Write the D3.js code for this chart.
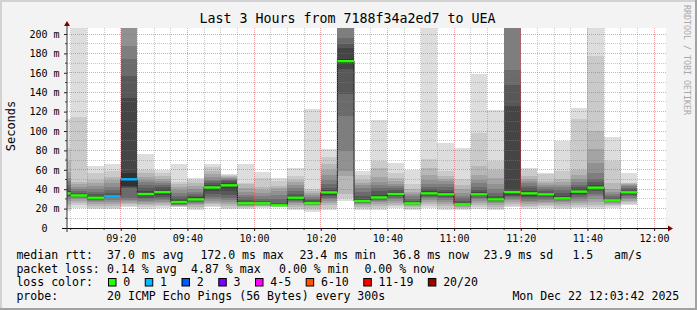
<!DOCTYPE html>
<html><head><meta charset="utf-8">
<script src="https://cdn.jsdelivr.net/npm/d3@7"></script>
<style>
body{margin:0;background:#f3f3f3}
svg{display:block}
text{font-family:"DejaVu Sans Mono",monospace;fill:#000}
.pre{white-space:pre}
</style>
</head><body><svg id="c" width="697" height="310"></svg>
<script>
// ---------------- DATA ----------------
const titleText = "Last 3 Hours from 7188f34a2ed7 to UEA";
const binStarts = ["09:00","09:05","09:10","09:15","09:20","09:25","09:30","09:35","09:40","09:45",
  "09:50","09:55","10:00","10:05","10:10","10:15","10:20","10:25","10:30","10:35",
  "10:40","10:45","10:50","10:55","11:00","11:05","11:10","11:15","11:20","11:25",
  "11:30","11:35","11:40","11:45","11:50"];
const medians = [35.7,33.6,31.2,32.6,50.2,35,37,26.8,29.5,41.8,
  44,25.5,25.5,23.4,31.2,25.6,36.7,172,27.8,31.5,
  35,25.4,35.7,34.7,24.4,34.7,29.5,37,35.7,34.7,
  30.6,37.5,41.6,28.5,36.8];
const lossCounts = [0,0,0,1,1,0,0,0,0,0, 0,0,0,0,0,0,0,0,0,0, 0,0,0,0,0,0,0,0,0,0, 0,0,0,0,0];
const pings = [
 [17.5,20,22.5,25,27.5,29.5,31.5,33,34.5,35.3,36,38,41,44,48,52,58,69,82.8,112],
 [21,24,26,28,29.5,31,32,33,33.3,33.5,34,35,36.5,38,40,42,45,47,114,215],
 [19.5,21,23,25,27,28,29,30,30.5,31,31.5,33,35,37,40,43,46,50,57,64],
 [19.5,21,23,25,27,29,30.5,31.5,32,32.4,32.8,34,36,39,42,46,50,53,59,66.3],
 [21.5,23,24.5,26,27.5,29,31,41,42,43.5,56.5,134,157,174,188,210,230,260,300,350],
 [20,22,23.5,25,26.5,28,29.5,31,32.5,34,35.5,38,41,44,47,50,53,57,60,76],
 [21,22.5,24,25.5,27,28.5,30,32,34,36,38,40,42,44,46,48,51,54,57,59.4],
 [21.5,22,22.5,23,23.5,24,24.5,25,25.5,26.3,27.3,29,31,33,36,39,42,45,47,65.6],
 [18.5,20.5,22,23.5,25,26,27,28,28.5,29,30,31.5,33,35,37.5,40,43,46,49,51.5],
 [21.5,23,24.5,26,28,30,32,35,38,41,42.5,44,46,48,50,53,56,59,63,66.3],
 [19.5,21,23,25,27,29,31,34,38,43,45,46.5,48,49.5,51,52,53,54,54.5,55.3],
 [19.5,20.5,21.5,22.5,23,23.5,24,24.5,25,25.3,25.7,27,29,31.5,34,37.5,41,45,46,65.6],
 [21,21.8,22.5,23,23.5,24,24.5,25,25.2,25.4,25.6,26.5,28,30,33,36,39,42,52,58],
 [21.7,22,22.3,22.6,22.9,23,23.1,23.2,23.3,23.3,23.4,24,26,30,34,38,41,43,48,51.5],
 [18.2,20,22,24,25.5,27,28,29,30,30.8,31.6,33,35,38,41,44,47,50,54,62.2],
 [17,19,21,22.5,23.5,24,24.5,25,25.2,25.4,25.8,27,28.5,30,32,34,36,38,40.5,122.3],
 [18.2,21,23.5,25.5,27.5,29.5,31,33,34.5,36,37.4,39,41.5,45,49,55,60,66,73,81],
 [27.8,31,34.7,53.6,58.7,79.4,115.4,137.8,163.5,170,174,186,190,196,215,230,250,280,320,380],
 [19,20.5,22,23.5,24.5,25.5,26,26.5,27,27.5,28,30,33,37,41,44,46.5,50,55,58.4],
 [18.9,21,23,25,26.5,27.5,28.5,29.5,30.5,31,32,34.5,38,41,44,47,53,62,69,111.6],
 [20.5,22.5,24,26,28,29.5,31,32.5,33.5,34.5,35.5,37,39,41,43,45,48,52,57,67.5],
 [18.5,20,21.5,22.5,23.5,24,24.5,25,25.2,25.3,25.6,26.5,28,30,32.5,35,37.5,40,45,59.4],
 [21,23,25,27,29,30.5,32,33.5,34.5,35.3,36,38,40,42,45,50,55,62,71.4,240],
 [18.2,20.5,23,25,27,29,30.5,32,33,34.3,35.1,37,39.5,42,45,48,51,54,59,87.3],
 [18.2,19.5,21,22,22.8,23.3,23.7,24,24.2,24.3,24.5,26,28,30.5,33,36,40,44,51,82.8],
 [19.9,22,24,26,28,29.5,31,32.5,33.5,34.3,35.1,37,39.5,42,46,50,55,64,98.3,158.4],
 [18.2,20,22,24,25.5,26.5,27.5,28.3,28.9,29.3,29.7,31,33,36,40,45,52,60,69,121.3],
 [21.6,23,25,27,28.5,30,31.5,33,34.5,36,37.5,126,147.7,163,215,235,260,290,330,400],
 [19.9,21.5,23,25,26.5,28,29.5,31.5,33.5,35,36.5,38,41,43.5,46,48.5,51,54,60,62.2],
 [21,22.5,24,25.5,27,28.5,30,31.5,33,34.3,35.1,36.5,38,40,42,44,46,48,56,57],
 [19.3,21,23,25,26.5,28,29,29.7,30.2,30.5,30.8,33,36,39,42,44.5,47,51,59,89.7],
 [20.5,22,24,26,28,30,32,34,35.5,37,38,40,42,44.5,47,51,55,59.4,112,123.3],
 [19.5,21.5,24,27,30,33,35.5,38,40,41.2,42,44,47,50.2,57,67.3,81,100,177.3,260],
 [21,22.5,24,25,26,26.8,27.4,27.8,28.1,28.4,28.7,29.5,31,33,35,37.5,40,46.7,69,94.2],
 [23.7,25,26.5,28,29.5,31,32.5,34,35.5,36.6,37,38.5,40,41.5,43,44,45,46,46.7,57]
];
const xTickLabels = ["09:20","09:40","10:00","10:20","10:40","11:00","11:20","11:40","12:00"];
const yTickValues = [0,20,40,60,80,100,120,140,160,180,200];
const timeWindow = ["09:03:42","12:03:42"];
const yLabel = "Seconds";
const rttLabel = "median rtt:";
const rttStats = ["37.0 ms avg","172.0 ms max","23.4 ms min","36.8 ms now","23.9 ms sd","1.5   am/s"];
const lossLabel = "packet loss:";
const lossStats = ["0.14 % avg","4.87 % max","0.00 % min","0.00 % now"];
const lossColorLabel = "loss color:";
const lossLevels = ["0","1","2","3","4-5","6-10","11-19","20/20"];
const lossMax = [0,1,2,3,5,10,19,20];
const lossColors = ["#26ff00","#00b8ff","#0059ff","#7e00ff","#ff00ff","#ff5500","#ff0000","#a10000"];
const probeLabel = "probe:";
const probeText = "20 ICMP Echo Pings (56 Bytes) every 300s";
const stampText = "Mon Dec 22 12:03:42 2025";
const watermark = "RRDTOOL / TOBI OETIKER";

// ---------------- LAYOUT ----------------
const W = 697, H = 310;
const P = {l: 67, r: 666, t: 28, b: 228};
const svg = d3.select("#c");
svg.append("rect").attr("width", W).attr("height", H).attr("fill", "#f3f3f3");
svg.append("rect").attr("x",0).attr("y",0).attr("width",W).attr("height",2).attr("fill","#d2d2d2");
svg.append("rect").attr("x",0).attr("y",0).attr("width",2).attr("height",H).attr("fill","#d2d2d2");
svg.append("rect").attr("x",0).attr("y",H-2).attr("width",W).attr("height",2).attr("fill","#a2a2a2");
svg.append("rect").attr("x",W-2).attr("y",0).attr("width",2).attr("height",H).attr("fill","#a2a2a2");

const pt = d3.timeParse("%H:%M:%S"), pm = d3.timeParse("%H:%M");
const x = d3.scaleTime().domain(timeWindow.map(pt)).range([66.4, 666.4]);
const y = d3.scaleLinear().domain([0, 206.2]).range([228, 28]);

svg.append("rect").attr("x", P.l).attr("y", P.t).attr("width", P.r - P.l).attr("height", P.b - P.t).attr("fill", "#fff");

const defs = svg.append("defs");
defs.append("clipPath").attr("id","clip").append("rect")
  .attr("x", P.l).attr("y", P.t).attr("width", P.r - P.l).attr("height", P.b - P.t);

const bins = binStarts.map((s,i) => {
  const t0 = pm(s);
  return {t0, t1: d3.timeMinute.offset(t0, 5), med: medians[i], loss: lossCounts[i], p: pings[i]};
});

const plot = svg.append("g").attr("clip-path","url(#clip)");
// smoke
bins.forEach(b => {
  for (let i = 0; i < 10; i++) {
    const g = Math.floor(190/10*(10-(i+1))) + 50;
    const lo = b.p[i], hi = b.p[19-i];
    plot.append("rect")
      .attr("x", x(b.t0)).attr("width", x(b.t1) - x(b.t0))
      .attr("y", y(hi)).attr("height", y(lo) - y(hi))
      .attr("fill", d3.rgb(g,g,g)).attr("shape-rendering","crispEdges");
  }
});

// grid
const grid = svg.append("g").attr("shape-rendering","crispEdges");
const minorY = d3.range(10, 200, 20);
const majorY = yTickValues.filter(v => v > 0);
minorY.forEach(v => grid.append("line").attr("x1",P.l).attr("x2",P.r).attr("y1",y(v)).attr("y2",y(v))
  .attr("stroke","rgba(130,130,130,0.45)").attr("stroke-dasharray","1,1"));
majorY.forEach(v => grid.append("line").attr("x1",P.l).attr("x2",P.r).attr("y1",y(v)).attr("y2",y(v))
  .attr("stroke","rgba(230,70,70,0.5)").attr("stroke-dasharray","1,1"));
const majorT = xTickLabels.map(pm);
const minorT = d3.timeMinute.every(5).range(pm("09:05"), pm("12:01"))
  .filter(t => !majorT.some(m => +m === +t));
minorT.forEach(t => grid.append("line").attr("x1",x(t)).attr("x2",x(t)).attr("y1",P.t).attr("y2",P.b)
  .attr("stroke","rgba(130,130,130,0.45)").attr("stroke-dasharray","1,1"));
majorT.forEach(t => grid.append("line").attr("x1",x(t)).attr("x2",x(t)).attr("y1",P.t).attr("y2",P.b)
  .attr("stroke","rgba(230,70,70,0.5)").attr("stroke-dasharray","1,1"));

// median step line
const stepPts = bins.map(b => [b.t0, b.med]).concat([[bins[bins.length-1].t1, bins[bins.length-1].med]]);
plot.append("path").datum(stepPts)
  .attr("d", d3.line().x(d => x(d[0])).y(d => y(d[1])).curve(d3.curveStepAfter))
  .attr("fill","none").attr("stroke","#1a1a1a").attr("stroke-width",1);
// median bands coloured by loss
const lossColor = n => lossColors[lossMax.findIndex(m => n <= m)];
plot.selectAll("rect.med").data(bins).join("rect").attr("class","med")
  .attr("x", d => x(d.t0)).attr("width", d => x(d.t1) - x(d.t0))
  .attr("y", d => y(d.med) - 1.2).attr("height", 2.4)
  .attr("fill", d => lossColor(d.loss));

// axes
const xAxis = d3.axisBottom(x).tickValues(majorT).tickFormat(d3.timeFormat("%H:%M")).tickSize(3).tickPadding(3.4);
const gx = svg.append("g").attr("transform", `translate(0,${P.b})`).call(xAxis);
gx.select(".domain").remove();
gx.selectAll("text").attr("font-family","DejaVu Sans Mono").attr("font-size",10).attr("fill","#000");
gx.selectAll("line").attr("stroke","#222");
minorT.forEach(t => svg.append("line").attr("x1",x(t)).attr("x2",x(t)).attr("y1",P.b).attr("y2",P.b+2).attr("stroke","#444"));

const yAxis = d3.axisLeft(y).tickValues(yTickValues).tickFormat(v => v === 0 ? "0  " : v + " m").tickSize(3).tickPadding(4.5);
const gy = svg.append("g").attr("transform", `translate(${P.l},0)`).call(yAxis);
gy.select(".domain").remove();
gy.selectAll("text").attr("font-family","DejaVu Sans Mono").attr("font-size",10).attr("fill","#000").attr("class","pre");
gy.selectAll("line").attr("stroke","#222");
minorY.forEach(v => svg.append("line").attr("x1",P.l-2).attr("x2",P.l).attr("y1",y(v)).attr("y2",y(v)).attr("stroke","#444"));

// axis lines with arrows
svg.append("line").attr("x1",62).attr("x2",669).attr("y1",P.b+0.5).attr("y2",P.b+0.5).attr("stroke","#111");
svg.append("path").attr("d",`M668,${P.b-2.5}L673,${P.b+0.5}L668,${P.b+3.5}Z`).attr("fill","#7f0000");
svg.append("line").attr("x1",P.l).attr("x2",P.l).attr("y1",P.b+4).attr("y2",24).attr("stroke","#333");
svg.append("path").attr("d",`M${P.l-3},26L${P.l},21L${P.l+3},26Z`).attr("fill","#7f0000");

// title
svg.append("text").attr("x",347.5).attr("y",23).attr("text-anchor","middle")
  .attr("font-size",13.3).text(titleText);
// y label
svg.append("text").attr("transform","translate(14.5,126) rotate(-90)").attr("text-anchor","middle")
  .attr("font-size",12).text(yLabel);
// watermark
svg.append("text").attr("transform","translate(684,5) rotate(90)")
  .attr("font-size",8.3).style("fill","#a8a8a8").text(watermark);

// legend
const LF = 11.56;
const leg = svg.append("g").attr("font-size", LF);
const addT = (s, xx, yy) => leg.append("text").attr("class","pre").attr("x",xx).attr("y",yy).text(s);
const row = [258.8, 272.5, 286.2, 300];
addT(rttLabel, 16.4, row[0]);
[107.1, 200.4, 299.5, 392.4, 483.6, 572.4].forEach((xx,i) => addT(rttStats[i], xx, row[0]));
addT(lossLabel, 16.4, row[1]);
[107.1, 191.1, 279.1, 364.4].forEach((xx,i) => addT(lossStats[i], xx, row[1]));
addT(lossColorLabel, 16.4, row[2]);
let bx = 108;
lossLevels.forEach((lab, i) => {
  leg.append("rect").attr("x", bx+0.5).attr("y", 278.5).attr("width", 7.5).attr("height", 7.5)
    .attr("fill", lossColors[i]).attr("stroke","#000").attr("stroke-width",1);
  const t = addT(lab, bx + 15.3, row[2]);
  bx = bx + 15.3 + t.node().getComputedTextLength() + 14.5;
});
addT(probeLabel, 16.4, row[3]);
addT(probeText, 107.1, row[3]);
addT(stampText, 512.4, row[3]);
</script>
</body></html>
